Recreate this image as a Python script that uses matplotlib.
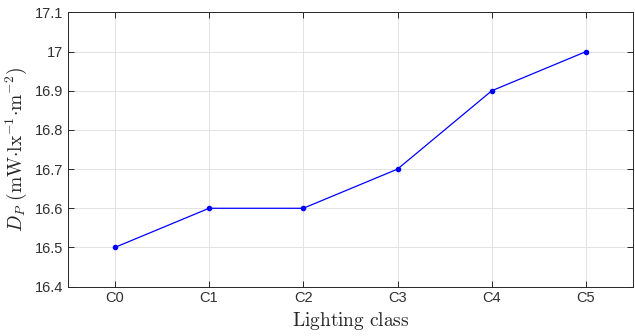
import matplotlib
matplotlib.use("Agg")
import matplotlib.pyplot as plt
import numpy as np

classes = ["C0", "C1", "C2", "C3", "C4", "C5"]
dp_values = [16.5, 16.6, 16.6, 16.7, 16.9, 17.0]
y_ticks = [16.4, 16.5, 16.6, 16.7, 16.8, 16.9, 17.0, 17.1]
y_tick_labels = ["16.4", "16.5", "16.6", "16.7", "16.8", "16.9", "17", "17.1"]

plt.rcParams['font.family'] = ['Liberation Sans', 'DejaVu Sans']
plt.rcParams['mathtext.fontset'] = 'cm'

fig = plt.figure(figsize=(6.35, 3.36), dpi=100)
ax = fig.add_axes([0.1066, 0.147, 0.8904, 0.816])

x = np.arange(len(classes))
ax.plot(x, dp_values, '-', color='#0000ff', linewidth=0.9, marker='o', markersize=3)

ax.set_xlim(-0.5, 5.5)
ax.set_ylim(16.4, 17.1)
ax.set_xticks(x)
ax.set_xticklabels(classes)
ax.set_yticks(y_ticks)
ax.set_yticklabels(y_tick_labels)

# matlab-ish look
ax.grid(True, color='#e3e3e3', linewidth=0.7)
ax.set_axisbelow(True)
ax.tick_params(direction='in', top=True, right=True, length=4, width=0.7,
               colors='#262626', labelsize=10.5, labelcolor='#303030')
for s in ax.spines.values():
    s.set_color('#262626')
    s.set_linewidth(0.7)

ax.set_xlabel(r'$\mathrm{Lighting\ class}$', fontsize=14, color='#262626', labelpad=3)
ax.set_ylabel(r'$D_P\ (\mathrm{mW{\cdot}lx^{-1}{\cdot}m^{-2}})$', fontsize=14,
              color='#262626', labelpad=4)

fig.savefig("out.png", dpi=100)
